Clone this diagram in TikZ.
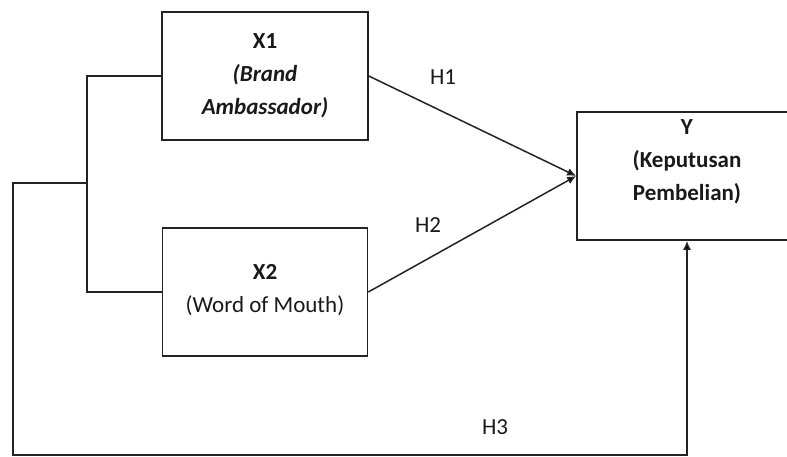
\documentclass[tikz,border=0pt]{standalone}
\usepackage{fontspec}
\setmainfont{Carlito}
\usetikzlibrary{arrows.meta}
\definecolor{linegray}{RGB}{35, 35, 35}

\begin{document}
\begin{tikzpicture}[
    x=1pt, y=-1pt,
    varbox/.style={rectangle, draw=linegray, line width=1.6pt, inner sep=0pt},
    vartext/.style={align=center, font=\fontsize{23}{33}\selectfont, text=black!90},
    hyplabel/.style={font=\fontsize{23}{27}\selectfont, text=black!90},
    link/.style={draw=linegray, line width=1.5pt},
    arrow/.style={link, -{Latex[length=9pt, width=8pt, fill=black]}}
]
\clip (0,0) rectangle (787,457);

% Variable boxes
\node[varbox, minimum width=206pt, minimum height=128pt] (x1) at (265,76) {};
\node[vartext] (x1text) at (x1.center) {\textbf{X1}\\\textbf{\textit{(Brand}}\\\textbf{\textit{Ambassador)}}};
\node[varbox, minimum width=205pt, minimum height=128pt] (x2) at (265,292) {};
\node[vartext] (x2text) at ([yshift=2pt]x2.center) {\textbf{X2}\\(Word of Mouth)};
\node[varbox, minimum width=220pt, minimum height=128pt] (y) at (687,176) {};
\node[vartext, anchor=north] (ytext) at ([yshift=-5pt]y.north) {\textbf{Y}\\\textbf{(Keputusan}\\\textbf{Pembelian)}};

% Bracket joining X1 and X2
\coordinate (split) at (88,183);
\coordinate (corner) at (13,455);
\draw[link] (x1.west) -- ++(-74,0) |- (x2.west);

% Hypothesis paths
\draw[arrow] (x1.east) -- (y.west);
\draw[arrow] (x2.east) -- (y.west);
\draw[arrow] (split) -| (corner) -| (y.south);

% Labels
\node[hyplabel] (h1) at (443,77) {H1};
\node[hyplabel] (h2) at (428,225) {H2};
\node[hyplabel] (h3) at (495,427) {H3};

\end{tikzpicture}
\end{document}
